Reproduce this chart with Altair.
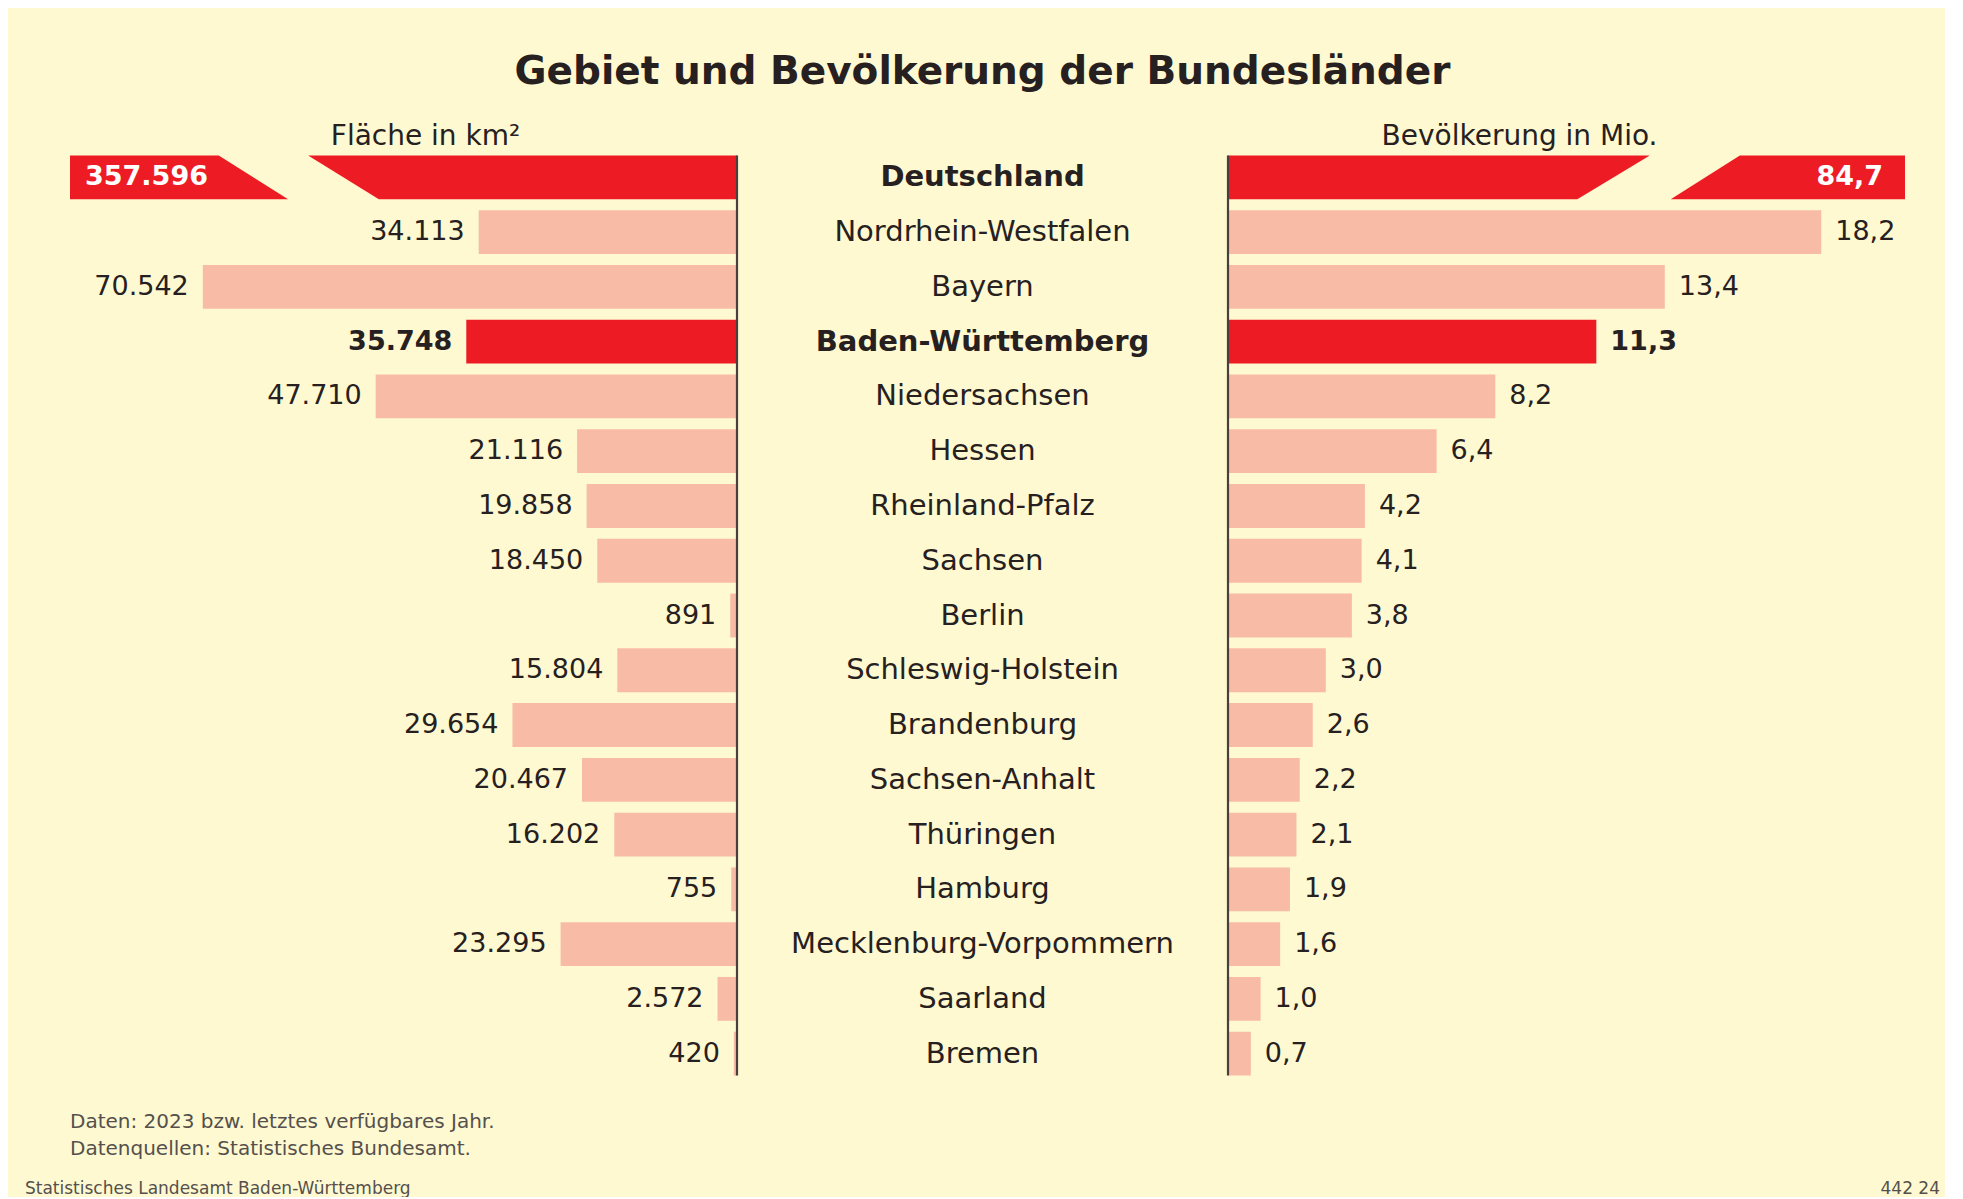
import altair as alt
import pandas as pd

# ---------------- data ----------------
states = ["Deutschland", "Nordrhein-Westfalen", "Bayern", "Baden-Württemberg",
          "Niedersachsen", "Hessen", "Rheinland-Pfalz", "Sachsen", "Berlin",
          "Schleswig-Holstein", "Brandenburg", "Sachsen-Anhalt", "Thüringen",
          "Hamburg", "Mecklenburg-Vorpommern", "Saarland", "Bremen"]
area_km2 = [357596, 34113, 70542, 35748, 47710, 21116, 19858, 18450, 891,
            15804, 29654, 20467, 16202, 755, 23295, 2572, 420]
pop_mio = [84.7, 18.2, 13.4, 11.3, 8.2, 6.4, 4.2, 4.1, 3.8, 3.0, 2.6, 2.2,
           2.1, 1.9, 1.6, 1.0, 0.7]
total_name = "Deutschland"
highlight_name = "Baden-Württemberg"

TITLE = "Gebiet und Bevölkerung der Bundesländer"
LEFT_HEADER = "Fläche in km²"
RIGHT_HEADER = "Bevölkerung in Mio."
FOOTNOTES = ["Daten: 2023 bzw. letztes verfügbares Jahr.",
             "Datenquellen: Statistisches Bundesamt."]
SOURCE = "Statistisches Landesamt Baden-Württemberg"
CODE = "442 24"

# ---------------- style ----------------
RED = "#ED1C24"
SALMON = "#F8BBA5"
CREAM = "#FEF9D0"
INK = "#262021"
AXIS = "#4A3F3F"
GREY = "#55504D"
FONT = "DejaVu Sans"
VAL_SIZE = 27
STATE_SIZE = 29
HEAD_SIZE = 28

L_W, M_W, R_W, H = 667, 491, 677, 931
L_MAX = 88080      # axis extent of left panel (km²)
R_MAX = 20.77      # axis extent of right panel (Mio.)
# broken-bar shape for the total row, as fractions of the axis extent
L_BREAK = dict(main_top=0.643, main_bot=0.537, tail_top=0.777, tail_bot=0.673)
R_BREAK = dict(main_top=0.623, main_bot=0.516, tail_top=0.756, tail_bot=0.654)
BAR = 0.4          # half bar thickness in row units


def de_int(v):
    return f"{v:,}".replace(",", ".")


def de_dec(v):
    return f"{v:.1f}".replace(".", ",")


df = pd.DataFrame({"state": states, "area": area_km2, "pop": pop_mio})
df["pos"] = range(len(df))
df["y0"] = df["pos"] - BAR
df["y1"] = df["pos"] + BAR
df["zero"] = 0
df["area_lbl"] = df["area"].map(de_int)
df["pop_lbl"] = df["pop"].map(de_dec)
df["kind"] = ["total" if s == total_name else ("bw" if s == highlight_name else "land")
              for s in states]
df["color"] = [RED if k != "land" else SALMON for k in df["kind"]]

n = len(df)
yscale = alt.Scale(domain=[-0.5, n - 0.5], reverse=True, nice=False, zero=False)


def break_pieces(mx, b):
    y0, y1 = 0 - BAR, 0 + BAR
    return pd.DataFrame({
        "piece": ["main", "main", "tail", "tail"],
        "y": [y0, y1, y0, y1],
        "xa": [0, 0, b["tail_top"] * mx, b["tail_bot"] * mx],
        "xb": [b["main_top"] * mx, b["main_bot"] * mx, mx, mx],
    })


def side(field, lbl, mx, brk, reverse, label_align, label_dx, total_align, total_dx,
         width, header, header_dx):
    xs = alt.Scale(domain=[0, mx], reverse=reverse, nice=False, zero=True)
    base = alt.Chart(df)
    rows = base.transform_filter(alt.datum.kind != "total")
    bars = rows.mark_rect().encode(
        x=alt.X(f"{field}:Q", scale=xs, axis=None),
        x2="zero:Q",
        y=alt.Y("y0:Q", scale=yscale, axis=None),
        y2="y1:Q",
        color=alt.Color("color:N", scale=None),
    )
    pieces = alt.Chart(break_pieces(mx, brk)).mark_area(orient="horizontal", color=RED).encode(
        y=alt.Y("y:Q", scale=yscale, axis=None),
        x=alt.X("xa:Q", scale=xs, axis=None),
        x2="xb:Q",
        detail="piece:N",
    )
    lab_land = base.transform_filter(alt.datum.kind == "land").mark_text(
        align=label_align, baseline="middle", dx=label_dx, fontSize=VAL_SIZE, font=FONT,
        color=INK
    ).encode(x=alt.X(f"{field}:Q", scale=xs, axis=None),
             y=alt.Y("pos:Q", scale=yscale, axis=None), text=f"{lbl}:N")
    lab_bw = base.transform_filter(alt.datum.kind == "bw").mark_text(
        align=label_align, baseline="middle", dx=label_dx, fontSize=VAL_SIZE, font=FONT,
        color=INK, fontWeight="bold"
    ).encode(x=alt.X(f"{field}:Q", scale=xs, axis=None),
             y=alt.Y("pos:Q", scale=yscale, axis=None), text=f"{lbl}:N")
    lab_tot = base.transform_filter(alt.datum.kind == "total").mark_text(
        align=total_align, baseline="middle", dx=total_dx, fontSize=VAL_SIZE, font=FONT,
        color="white", fontWeight="bold"
    ).encode(x=alt.datum(mx), y=alt.Y("pos:Q", scale=yscale, axis=None), text=f"{lbl}:N")
    rule = base.transform_aggregate(top="min(y0)", bot="max(y1)").mark_rule(
        color=AXIS, strokeWidth=2.2
    ).encode(x=alt.datum(0), y=alt.Y("top:Q", scale=yscale, axis=None), y2="bot:Q")
    return alt.layer(bars, pieces, lab_land, lab_bw, lab_tot, rule).properties(
        width=width, height=H,
        title=alt.TitleParams(header, fontSize=HEAD_SIZE, font=FONT, fontWeight="normal",
                              color=INK, anchor="middle", dx=header_dx, dy=7, offset=6),
    )


left = side("area", "area_lbl", L_MAX, L_BREAK, True, "right", -14, "left", 15, L_W,
            LEFT_HEADER, 22)
right = side("pop", "pop_lbl", R_MAX, R_BREAK, False, "left", 14, "right", -22, R_W,
             RIGHT_HEADER, -47)

mbase = alt.Chart(df)
mid_reg = mbase.transform_filter(alt.datum.kind == "land").mark_text(
    align="center", baseline="middle", fontSize=STATE_SIZE, font=FONT, color=INK
).encode(x=alt.value(M_W / 2), y=alt.Y("pos:Q", scale=yscale, axis=None), text="state:N")
mid_bold = mbase.transform_filter(alt.datum.kind != "land").mark_text(
    align="center", baseline="middle", fontSize=STATE_SIZE, font=FONT, color=INK,
    fontWeight="bold"
).encode(x=alt.value(M_W / 2), y=alt.Y("pos:Q", scale=yscale, axis=None), text="state:N")
middle = alt.layer(mid_reg, mid_bold).properties(
    width=M_W, height=H,
    title=alt.TitleParams(" ", fontSize=HEAD_SIZE, font=FONT, offset=6),
)

# ---------------- footer ----------------
FW = L_W + M_W + R_W


def foot_text(txt, size, align, x, y):
    return alt.Chart(pd.DataFrame({"t": [txt]})).mark_text(
        align=align, baseline="middle", fontSize=size, font=FONT, color=GREY
    ).encode(x=alt.value(x), y=alt.value(y), text="t:N")


foot_lines = alt.layer(
    foot_text(FOOTNOTES[0], 20, "left", 0, 41),
    foot_text(FOOTNOTES[1], 20, "left", 0, 68),
    foot_text(SOURCE, 17, "left", -45, 108),
    foot_text(CODE, 17, "right", FW + 35, 108),
).properties(width=FW, height=116)

chart = alt.vconcat(
    alt.hconcat(left, middle, right, spacing=0, bounds="flush"),
    foot_lines,
    spacing=0,
).properties(
    title=alt.TitleParams(TITLE, fontSize=39, font=FONT, fontWeight="bold", color=INK,
                          anchor="middle", offset=31, dy=7),
    padding={"left": 17, "top": 45, "right": 5, "bottom": 0},
).configure(
    background=CREAM,
).configure_view(
    stroke=None,
)

chart.save("out.html", embed_options={"renderer": "svg", "actions": False})
